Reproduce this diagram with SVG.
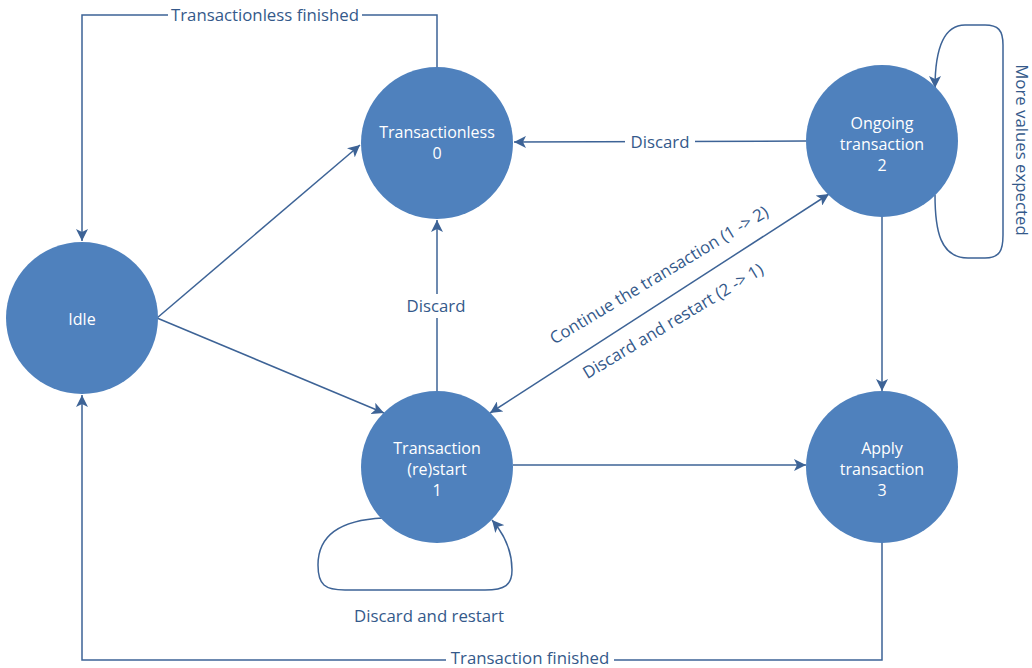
<svg xmlns="http://www.w3.org/2000/svg" width="1032" height="668" viewBox="0 0 1032 668">
<style>
.node{fill:#4F81BD;}
.nt{font-family:"Open Sans","Noto Sans","DejaVu Sans",sans-serif;font-size:16px;fill:#FFFFFF;text-anchor:middle;}
.edge{fill:none;stroke:#3D6396;stroke-width:1.5;}
.lbl{font-family:"Open Sans","Noto Sans","DejaVu Sans",sans-serif;font-size:16.8px;fill:#34598A;text-anchor:middle;}
.bg{fill:#FFFFFF;}
</style>
<defs>
<marker id="ah" markerUnits="userSpaceOnUse" markerWidth="14" markerHeight="12" refX="12" refY="6" orient="auto">
<path d="M0,0 L12,6 L0,12 L3,6 Z" fill="#3D6396"/>
</marker>
<marker id="ahs" markerUnits="userSpaceOnUse" markerWidth="14" markerHeight="12" refX="0" refY="6" orient="auto">
<path d="M12,0 L0,6 L12,12 L9,6 Z" fill="#3D6396"/>
</marker>
</defs>
<g id="connectors">
<path class="edge" d="M437,67 L437,15 L82,15 L82,241" marker-end="url(#ah)"/>
<path class="edge" d="M157,318 L360,145" marker-end="url(#ah)"/>
<path class="edge" d="M157,318 L384,413" marker-end="url(#ah)"/>
<path class="edge" d="M437,391 L437,220" marker-end="url(#ah)"/>
<path class="edge" d="M806,141 L514,142" marker-end="url(#ah)"/>
<path class="edge" d="M490,413 L829,194" marker-start="url(#ahs)" marker-end="url(#ah)"/>
<path class="edge" d="M882,217 L882,391" marker-end="url(#ah)"/>
<path class="edge" d="M513,465 L806,465" marker-end="url(#ah)"/>
<path class="edge" d="M882,543 L882,660 L82,660 L82,395" marker-end="url(#ah)"/>
<path class="edge" d="M383,518 C340,520 318,535 318,565 C318,585 325,590 345,590 L485,590 C505,590 512,585 512,570 C512,550 505,535 492,520" marker-end="url(#ah)"/>
<path class="edge" d="M935,195 C935,230 940,258 968,258 L985,258 C1000,258 1003,250 1003,235 L1003,45 C1003,30 998,25 985,25 L965,25 C945,25 935,45 935,88" marker-end="url(#ah)"/>
<rect class="bg" x="168" y="5" width="194" height="20"/>
<text class="lbl" x="265" y="21">Transactionless finished</text>
<rect class="bg" x="446" y="650" width="168" height="18"/>
<text class="lbl" x="530" y="664">Transaction finished</text>
<rect class="bg" x="402" y="294" width="70" height="24"/>
<text class="lbl" x="436" y="312">Discard</text>
<rect class="bg" x="625" y="130" width="70" height="24"/>
<text class="lbl" x="660" y="148">Discard</text>
<text class="lbl" x="429" y="622">Discard and restart</text>
<text class="lbl" transform="translate(662,280) rotate(-31)">Continue the transaction (1 -&gt; 2)</text>
<text class="lbl" transform="translate(676,326) rotate(-31)">Discard and restart (2 -&gt; 1)</text>
<text class="lbl" transform="translate(1016,150) rotate(90)">More values expected</text>
</g>
<g id="idle">
<circle class="node" cx="82" cy="318" r="76"/>
<text class="nt" x="82" y="325">Idle</text>
</g>
<g id="transactionless">
<circle class="node" cx="437" cy="143" r="76"/>
<text class="nt" x="437" y="137.5">Transactionless</text>
<text class="nt" x="437" y="158.5">0</text>
</g>
<g id="ongoing">
<circle class="node" cx="882" cy="141" r="76"/>
<text class="nt" x="882" y="129">Ongoing</text>
<text class="nt" x="882" y="150">transaction</text>
<text class="nt" x="882" y="171">2</text>
</g>
<g id="restart">
<circle class="node" cx="437" cy="467" r="76"/>
<text class="nt" x="437" y="454">Transaction</text>
<text class="nt" x="437" y="475">(re)start</text>
<text class="nt" x="437" y="496">1</text>
</g>
<g id="apply">
<circle class="node" cx="882" cy="467" r="76"/>
<text class="nt" x="882" y="454">Apply</text>
<text class="nt" x="882" y="475">transaction</text>
<text class="nt" x="882" y="496">3</text>
</g>
</svg>
